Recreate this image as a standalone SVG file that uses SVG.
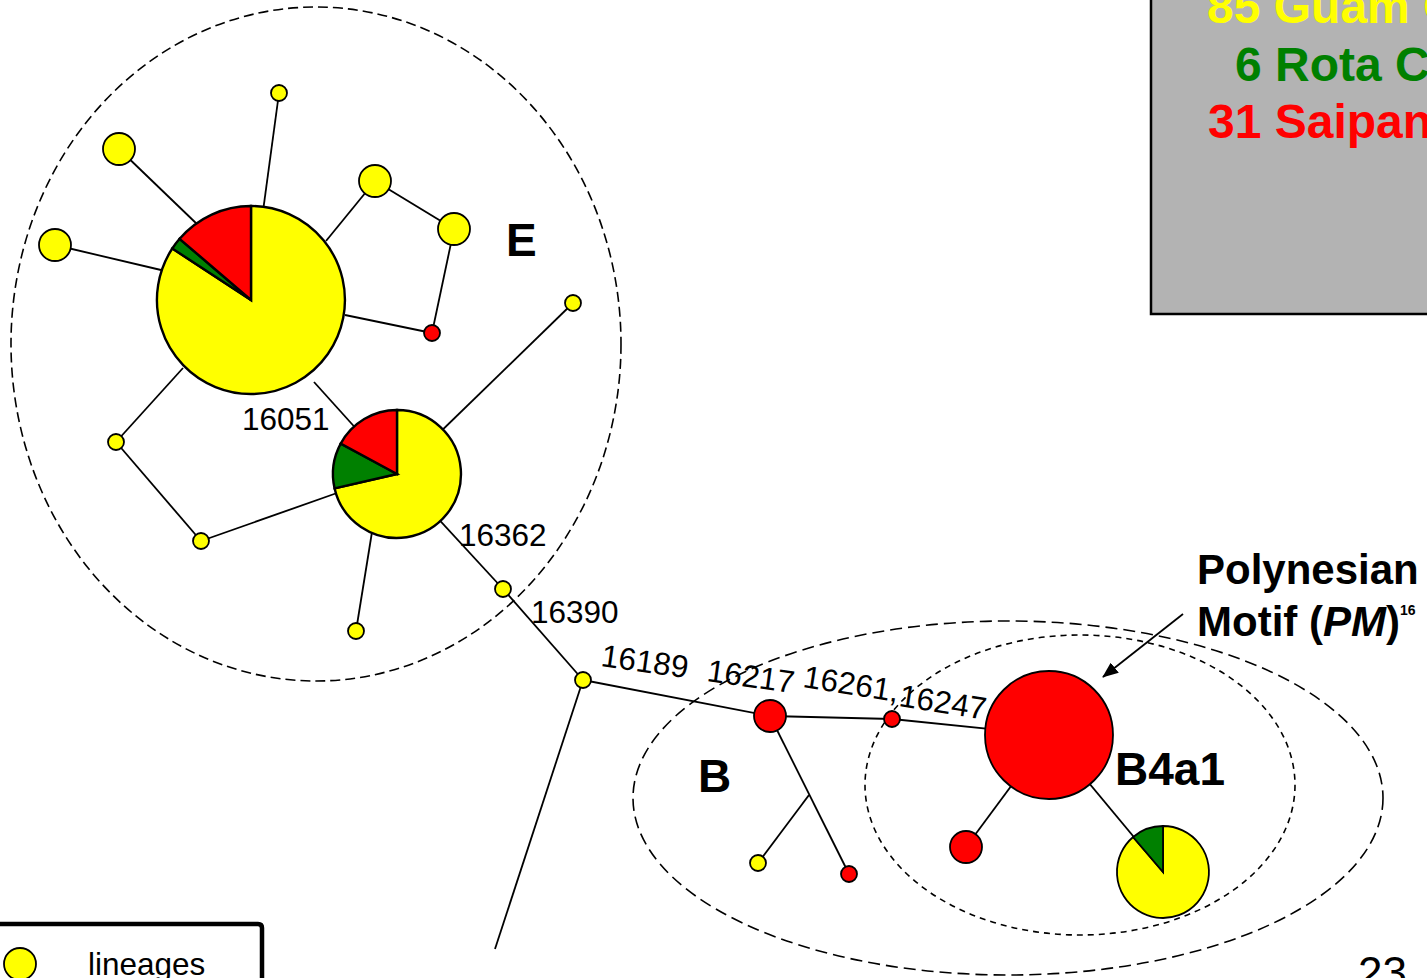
<svg xmlns="http://www.w3.org/2000/svg" width="1427" height="978" viewBox="0 0 1427 978">
  <style>
    .edge { stroke: #000; stroke-width: 1.8; fill: none; }
    .node { stroke: #000; stroke-width: 1.8; }
    .pie { stroke: #000; stroke-width: 2.4; stroke-linejoin: miter; }
    .y { fill: #ffff00; }
    .r { fill: #ff0000; }
    .g { fill: #008000; }
    .hull { fill: none; stroke: #000; stroke-width: 1.6; }
    .num { font-family: "Liberation Sans", Arial, sans-serif; font-size: 31.5px; fill: #000; }
    .big { font-family: "Liberation Sans", Arial, sans-serif; font-size: 46px; font-weight: bold; fill: #000; }
    .pop { font-family: "Liberation Sans", Arial, sans-serif; font-size: 48px; font-weight: bold; }
    .note { font-family: "Liberation Sans", Arial, sans-serif; font-size: 42px; font-weight: bold; fill: #000; }
    .page { font-family: "Liberation Sans", Arial, sans-serif; font-size: 44px; fill: #000; }
  </style>
  <defs>
    <marker id="arrowhead" markerWidth="16" markerHeight="13" refX="15" refY="6.5" orient="auto" markerUnits="userSpaceOnUse" viewBox="0 0 16 13">
      <path d="M0,0 L16,6.5 L0,13 Z" fill="#000"/>
    </marker>
  </defs>

  <rect width="1427" height="978" fill="#fff"/>

  <!-- population key box (top right) -->
  <g id="population-box">
    <rect x="1151" y="-10" width="300" height="324" fill="#b3b3b3" stroke="#000" stroke-width="2.5"/>
    <text class="pop" x="1207" y="23" fill="#ffff00">85 Guam C</text>
    <text class="pop" x="1235" y="81" fill="#008000">6 Rota C</text>
    <text class="pop" x="1208" y="138" fill="#ff0000">31 Saipan</text>
  </g>

  <!-- haplogroup hulls -->
  <g id="hulls">
    <ellipse id="hull-E" class="hull" cx="316" cy="344" rx="305" ry="337" stroke-dasharray="10 5"/>
    <ellipse id="hull-B" class="hull" cx="1008" cy="798" rx="375" ry="177" stroke-dasharray="12 6"/>
    <ellipse id="hull-B4a1" class="hull" cx="1080" cy="785" rx="215" ry="150" stroke-dasharray="6 5"/>
  </g>

  <!-- connectors -->
  <g id="connectors">
    <line class="edge" x1="279" y1="93" x2="251" y2="300"/>
    <line class="edge" x1="119" y1="149" x2="199" y2="226"/>
    <line class="edge" x1="55" y1="245" x2="161" y2="270"/>
    <line class="edge" x1="375" y1="181" x2="326" y2="241"/>
    <line class="edge" x1="375" y1="181" x2="454" y2="229"/>
    <line class="edge" x1="454" y1="229" x2="432" y2="333"/>
    <line class="edge" x1="345" y1="315" x2="432" y2="333"/>
    <line class="edge" x1="183" y1="368" x2="116" y2="442"/>
    <line class="edge" x1="116" y1="442" x2="201" y2="541"/>
    <line class="edge" x1="201" y1="541" x2="337" y2="493"/>
    <line class="edge" x1="314" y1="382" x2="397" y2="474"/>
    <line class="edge" x1="397" y1="474" x2="573" y2="303"/>
    <line class="edge" x1="372" y1="532" x2="356" y2="631"/>
    <line class="edge" x1="397" y1="474" x2="503" y2="589"/>
    <line class="edge" x1="503" y1="589" x2="583" y2="680"/>
    <line class="edge" x1="583" y1="680" x2="495" y2="949"/>
    <line class="edge" x1="583" y1="680" x2="770" y2="716"/>
    <line class="edge" x1="770" y1="716" x2="892" y2="719"/>
    <line class="edge" x1="892" y1="719" x2="1049" y2="735"/>
    <line class="edge" x1="770" y1="716" x2="849" y2="874"/>
    <line class="edge" x1="809" y1="795" x2="758" y2="863"/>
    <line class="edge" x1="1049" y1="735" x2="966" y2="847"/>
    <line class="edge" x1="1049" y1="735" x2="1163" y2="872"/>
    <line class="edge" x1="1183" y1="614" x2="1103" y2="677" stroke-width="2.4" marker-end="url(#arrowhead)"/>
  </g>

  <!-- haplogroup E -->
  <g id="node-E-center">
    <path class="pie y" d="M251,300 L251,206 A94,94 0 1 1 172.3,248.5 Z"/>
    <path class="pie g" d="M251,300 L172.3,248.5 A94,94 0 0 1 179.6,238.8 Z"/>
    <path class="pie r" d="M251,300 L179.6,238.8 A94,94 0 0 1 251,206 Z"/>
  </g>
  <g id="node-E-16051">
    <path class="pie y" d="M397,474 L397,410 A64,64 0 1 1 334.6,488.4 Z"/>
    <path class="pie g" d="M397,474 L334.6,488.4 A64,64 0 0 1 340.7,443.6 Z"/>
    <path class="pie r" d="M397,474 L340.7,443.6 A64,64 0 0 1 397,410 Z"/>
  </g>
  <g id="node-e1"><circle class="node y" cx="279" cy="93" r="8"/></g>
  <g id="node-e2"><circle class="node y" cx="119" cy="149" r="16"/></g>
  <g id="node-e3"><circle class="node y" cx="55" cy="245" r="16"/></g>
  <g id="node-e4"><circle class="node y" cx="375" cy="181" r="16"/></g>
  <g id="node-e5"><circle class="node y" cx="454" cy="229" r="16"/></g>
  <g id="node-e6"><circle class="node r" cx="432" cy="333" r="8"/></g>
  <g id="node-e7"><circle class="node y" cx="573" cy="303" r="8"/></g>
  <g id="node-e8"><circle class="node y" cx="116" cy="442" r="8"/></g>
  <g id="node-e9"><circle class="node y" cx="201" cy="541" r="8"/></g>
  <g id="node-e10"><circle class="node y" cx="356" cy="631" r="8"/></g>
  <g id="node-16362"><circle class="node y" cx="503" cy="589" r="8"/></g>
  <g id="node-16390"><circle class="node y" cx="583" cy="680" r="8"/></g>

  <!-- haplogroup B -->
  <g id="node-16217"><circle class="node r" cx="770" cy="716" r="16"/></g>
  <g id="node-16261"><circle class="node r" cx="892" cy="719" r="8"/></g>
  <g id="node-b1"><circle class="node r" cx="849" cy="874" r="8"/></g>
  <g id="node-b2"><circle class="node y" cx="758" cy="863" r="8"/></g>
  <g id="node-B4a1"><circle class="node r" cx="1049" cy="735" r="64"/></g>
  <g id="node-b3"><circle class="node r" cx="966" cy="847" r="16"/></g>
  <g id="node-b4">
    <path class="node y" d="M1163,872 L1163,826 A46,46 0 1 1 1133.1,837 Z"/>
    <path class="node g" d="M1163,872 L1133.1,837 A46,46 0 0 1 1163,826 Z"/>
  </g>

  <!-- mutation labels -->
  <g id="mutation-labels">
    <text class="num" x="242" y="430">16051</text>
    <text class="num" x="459" y="546">16362</text>
    <text class="num" x="531" y="623">16390</text>
    <text class="num" transform="translate(600,666) rotate(8)">16189</text>
    <text class="num" transform="translate(706,681) rotate(8)">16217</text>
    <text class="num" transform="translate(802,687) rotate(9)">16261,</text>
    <text class="num" transform="translate(898,706) rotate(9)">16247</text>
  </g>

  <!-- haplogroup labels -->
  <g id="group-labels">
    <text class="big" x="506" y="256">E</text>
    <text class="big" x="698" y="792">B</text>
    <text class="big" x="1115" y="785">B4a1</text>
  </g>

  <g id="motif-note">
    <text class="note" x="1197" y="584">Polynesian</text>
    <text class="note" x="1197" y="636">Motif (<tspan font-style="italic">PM</tspan>)<tspan font-size="14" dy="-21">16</tspan></text>
  </g>

  <!-- legend (bottom left) -->
  <g id="legend">
    <path d="M-10,924 L258,924 Q262,924 262,928 L262,990" fill="#fff" stroke="#000" stroke-width="4.5"/>
    <circle class="node y" cx="20" cy="964" r="16"/>
    <text class="num" x="88" y="975">lineages</text>
  </g>

  <text class="page" x="1358" y="988">23</text>
</svg>
